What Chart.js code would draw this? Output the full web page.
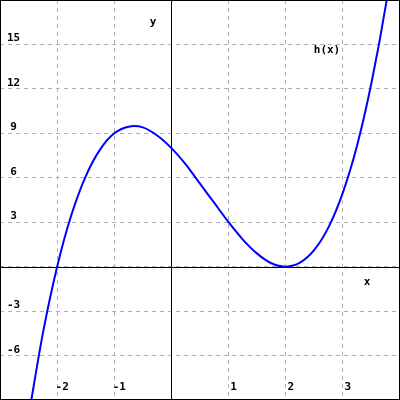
<!DOCTYPE html>
<html>
<head>
<meta charset="utf-8">
<script src="https://cdn.jsdelivr.net/npm/chart.js@4"></script>
<style>
  html, body { margin: 0; padding: 0; background: #fff; }
  #wrap { width: 400px; height: 400px; }
</style>
</head>
<body>
<div id="wrap"><canvas id="myChart" width="400" height="400"></canvas></div>
<script>
var xs = [-2.5, -2.25, -2, -1.75, -1.5, -1.25, -1, -0.75, -0.5, -0.25, 0, 0.25, 0.5, 0.75, 1, 1.25, 1.5, 1.75, 2, 2.25, 2.5, 2.75, 3, 3.25, 3.5, 3.75, 4];
var hs = [-10.1, -4.5, 0, 3.5, 6.1, 7.9, 9, 9.45, 9.4, 8.85, 8, 6.9, 5.6, 4.3, 3, 1.83, 0.88, 0.23, 0, 0.27, 1.13, 2.67, 5, 8.2, 12.4, 17.6, 24];

var xTicks = [-2, -1, 1, 2, 3];
var yTicks = [-6, -3, 3, 6, 9, 12, 15];
var xRange = [-3, 4];
var yRange = [-9, 18];

var pts = [];
for (var i = 0; i < xs.length; i++) {
    pts.push({x: xs[i], y: hs[i]});
}

var FONT = "bold 11px 'DejaVu Sans Mono', 'Liberation Mono', monospace";

var extras = {
    id: 'extras',
    beforeDatasetsDraw: function(chart) {
        var ctx = chart.ctx;
        var sx = chart.scales.x, sy = chart.scales.y;
        var x0 = Math.round(sx.getPixelForValue(0)) + 0.5;
        var y0 = Math.round(sy.getPixelForValue(0)) + 0.5;
        ctx.save();
        ctx.strokeStyle = '#000';
        ctx.lineWidth = 1;
        ctx.beginPath();
        ctx.moveTo(x0, 0); ctx.lineTo(x0, chart.height);
        ctx.moveTo(0, y0); ctx.lineTo(chart.width, y0);
        ctx.stroke();
        ctx.restore();
    },
    afterDraw: function(chart) {
        var ctx = chart.ctx;
        var sx = chart.scales.x, sy = chart.scales.y;
        ctx.save();
        ctx.fillStyle = '#000';
        ctx.font = FONT;
        ctx.textAlign = 'center';
        ctx.textBaseline = 'alphabetic';
        xTicks.forEach(function(v) {
            ctx.fillText(String(v), sx.getPixelForValue(v) + 5, 390);
        });
        yTicks.forEach(function(v) {
            ctx.fillText(String(v), 13.5, sy.getPixelForValue(v) - 3);
        });
        ctx.fillText('y', 153, 25);
        ctx.fillText('x', 367, 285);
        ctx.fillText('h(x)', 327, 53);
        ctx.strokeStyle = '#000';
        ctx.lineWidth = 1;
        ctx.strokeRect(0.5, 0.5, chart.width - 1, chart.height - 1);
        ctx.restore();
    }
};

var ctx = document.getElementById("myChart").getContext('2d');
var myChart = new Chart(ctx, {
    type: 'scatter',
    data: {
        datasets: [{
            label: 'h(x)',
            data: pts,
            showLine: true,
            borderColor: '#0000ff',
            borderWidth: 2,
            pointRadius: 0,
            tension: 0.3,
            fill: false
        }]
    },
    options: {
        responsive: false,
        animation: false,
        layout: { padding: 0 },
        plugins: {
            legend: { display: false },
            tooltip: { enabled: false }
        },
        scales: {
            x: {
                type: 'linear',
                min: xRange[0], max: xRange[1],
                ticks: { display: false, stepSize: 1 },
                grid: { color: '#b0b0b0', lineWidth: 1, drawTicks: false },
                border: { display: false, dash: [4, 4] }
            },
            y: {
                type: 'linear',
                min: yRange[0], max: yRange[1],
                ticks: { display: false, stepSize: 3 },
                grid: { color: '#b0b0b0', lineWidth: 1, drawTicks: false },
                border: { display: false, dash: [4, 4] }
            }
        }
    },
    plugins: [extras]
});
</script>
</body>
</html>
